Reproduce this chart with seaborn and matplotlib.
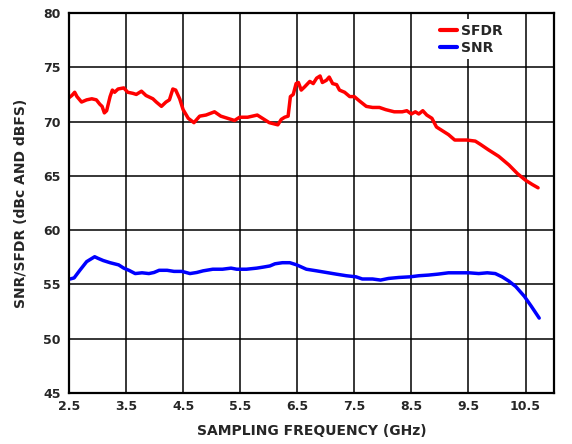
import numpy as np
import pandas as pd
import matplotlib
matplotlib.use("Agg")
import matplotlib.pyplot as plt
import seaborn as sns

# SFDR curve (GHz, dBc)
sfdr_freq = [2.50, 2.55, 2.60, 2.64, 2.72, 2.81, 2.90, 2.98, 3.04, 3.08, 3.12, 3.16,
             3.22, 3.26, 3.30, 3.36, 3.46, 3.53, 3.62, 3.68, 3.77, 3.85, 3.97, 4.03,
             4.12, 4.20, 4.26, 4.32, 4.37, 4.44, 4.50, 4.59, 4.69, 4.79, 4.90, 5.05,
             5.16, 5.28, 5.40, 5.49, 5.63, 5.80, 5.92, 6.01, 6.16, 6.22, 6.28, 6.34,
             6.38, 6.43, 6.48, 6.52, 6.57, 6.63, 6.72, 6.78, 6.84, 6.90, 6.94, 7.01,
             7.06, 7.12, 7.19, 7.24, 7.33, 7.42, 7.50, 7.59, 7.71, 7.82, 7.94, 8.05,
             8.20, 8.34, 8.42, 8.50, 8.57, 8.63, 8.70, 8.77, 8.86, 8.94, 9.06, 9.15,
             9.26, 9.38, 9.47, 9.62, 9.71, 9.85, 10.03, 10.21, 10.36, 10.50, 10.62, 10.72]
sfdr_val = [72.2, 72.4, 72.7, 72.3, 71.8, 72.0, 72.1, 72.0, 71.6, 71.4, 70.8, 71.0,
            72.3, 72.9, 72.7, 73.0, 73.1, 72.7, 72.6, 72.5, 72.8, 72.4, 72.1, 71.8,
            71.4, 71.8, 72.0, 73.0, 72.9, 72.1, 71.1, 70.3, 69.9, 70.5, 70.6, 70.9,
            70.5, 70.3, 70.1, 70.4, 70.4, 70.6, 70.2, 69.9, 69.7, 70.2, 70.4, 70.5,
            72.3, 72.5, 73.5, 73.6, 72.9, 73.2, 73.7, 73.5, 74.0, 74.2, 73.6, 73.8,
            74.1, 73.5, 73.4, 72.9, 72.7, 72.3, 72.3, 71.9, 71.4, 71.3, 71.3, 71.1,
            70.9, 70.9, 71.0, 70.7, 70.9, 70.7, 71.0, 70.6, 70.3, 69.5, 69.1, 68.8,
            68.3, 68.3, 68.3, 68.2, 67.9, 67.4, 66.8, 66.0, 65.2, 64.6, 64.2, 63.9]

# SNR curve (GHz, dBFS)
snr_freq = [2.52, 2.59, 2.69, 2.81, 2.95, 3.01, 3.10, 3.22, 3.37, 3.46, 3.55, 3.66,
            3.78, 3.90, 3.99, 4.08, 4.22, 4.34, 4.48, 4.62, 4.74, 4.85, 5.02, 5.19,
            5.34, 5.44, 5.61, 5.79, 5.91, 6.02, 6.11, 6.24, 6.37, 6.49, 6.66, 6.84,
            7.01, 7.18, 7.36, 7.53, 7.64, 7.82, 7.96, 8.10, 8.28, 8.48, 8.63, 8.80,
            8.97, 9.15, 9.33, 9.51, 9.68, 9.83, 9.97, 10.09, 10.21, 10.33, 10.48,
            10.60, 10.74]
snr_val = [55.5, 55.6, 56.3, 57.1, 57.55, 57.4, 57.2, 57.0, 56.8, 56.5, 56.3, 56.0,
           56.07, 56.0, 56.1, 56.3, 56.3, 56.2, 56.2, 56.0, 56.1, 56.25, 56.4, 56.4,
           56.5, 56.4, 56.4, 56.5, 56.6, 56.7, 56.9, 57.0, 57.0, 56.8, 56.4, 56.25,
           56.1, 55.95, 55.8, 55.7, 55.5, 55.5, 55.4, 55.55, 55.64, 55.7, 55.8, 55.86,
           55.95, 56.07, 56.07, 56.07, 56.0, 56.07, 56.0, 55.7, 55.3, 54.8, 53.9,
           53.0, 51.9]

x_ticks = [2.5, 3.5, 4.5, 5.5, 6.5, 7.5, 8.5, 9.5, 10.5]
y_ticks = [45, 50, 55, 60, 65, 70, 75, 80]


def build_frame():
    sfdr = pd.DataFrame({"freq": sfdr_freq, "value": sfdr_val, "series": "SFDR"})
    snr = pd.DataFrame({"freq": snr_freq, "value": snr_val, "series": "SNR"})
    return pd.concat([sfdr, snr], ignore_index=True)


def plot_chart(df):
    sns.set_style("white")
    plt.rcParams["font.family"] = ["DejaVu Sans"]
    plt.rcParams["font.weight"] = "bold"

    fig = plt.figure(figsize=(5.72, 4.44), dpi=100)
    ax = fig.add_axes([0.1206, 0.1149, 0.848, 0.8558])

    sns.lineplot(data=df, x="freq", y="value", hue="series",
                 palette={"SFDR": "#ff0000", "SNR": "#0000ff"},
                 linewidth=2.5, ax=ax, sort=False)

    ax.set_xlim(2.5, 11.0)
    ax.set_ylim(45, 80)
    ax.set_xticks(x_ticks)
    ax.set_yticks(y_ticks)
    ax.set_xticklabels([f"{t:g}" for t in x_ticks], fontsize=9, fontweight="bold")
    ax.set_yticklabels([str(t) for t in y_ticks], fontsize=9, fontweight="bold")
    ax.tick_params(axis="y", length=0, pad=6)
    ax.tick_params(axis="x", length=0, pad=5)
    ax.grid(True, color="black", linewidth=1.1)
    for sp in ax.spines.values():
        sp.set_visible(True)
        sp.set_color("black")
        sp.set_linewidth(1.6)

    ax.set_xlabel("SAMPLING FREQUENCY (GHz)", fontsize=10, fontweight="bold", labelpad=8)
    ax.set_ylabel("SNR/SFDR (dBc AND dBFS)", fontsize=10, fontweight="bold", labelpad=11)

    leg = ax.legend(loc="upper left", bbox_to_anchor=(0.75, 0.972),
                    bbox_transform=fig.transFigure, frameon=True,
                    handlelength=1.2, handletextpad=0.3, labelspacing=0.22,
                    borderpad=0.3, prop={"size": 10, "weight": "bold"})
    leg.get_frame().set_edgecolor("none")
    leg.get_frame().set_facecolor("white")
    leg.get_frame().set_alpha(1.0)
    for line in leg.get_lines():
        line.set_linewidth(3)

    fig.savefig("out.png", dpi=100)


def main():
    df = build_frame()
    plot_chart(df)


if __name__ == "__main__":
    main()
